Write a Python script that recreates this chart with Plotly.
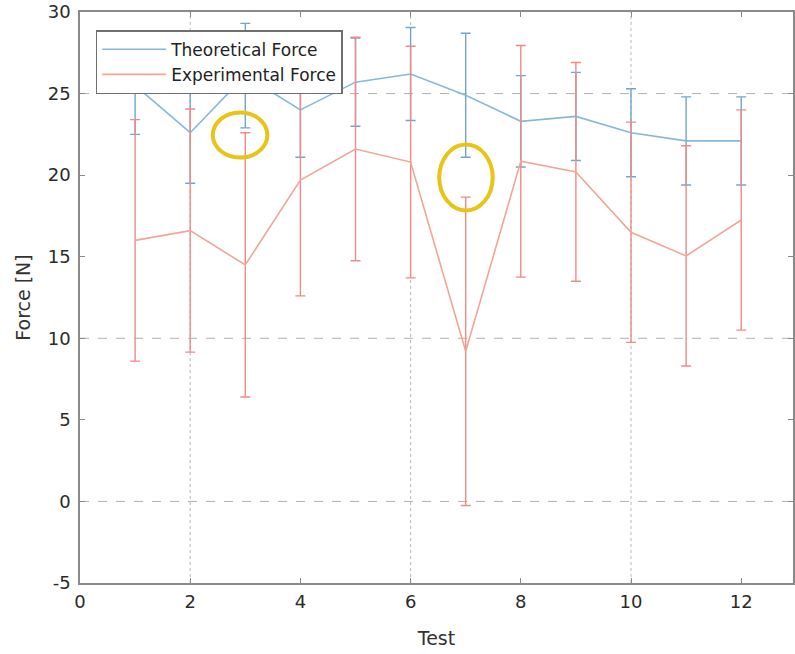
import plotly.graph_objects as go

tests = [1, 2, 3, 4, 5, 6, 7, 8, 9, 10, 11, 12]
theoretical = [25.5, 22.6, 26.1, 24.0, 25.7, 26.2, 24.9, 23.3, 23.6, 22.6, 22.1, 22.1]
theoretical_err = [3.0, 3.1, 3.2, 2.9, 2.7, 2.85, 3.8, 2.8, 2.7, 2.7, 2.7, 2.7]
experimental = [16.0, 16.6, 14.5, 19.7, 21.6, 20.8, 9.2, 20.85, 20.2, 16.5, 15.05, 17.25]
experimental_err = [7.4, 7.45, 8.1, 7.1, 6.85, 7.1, 9.45, 7.1, 6.7, 6.75, 6.75, 6.75]

x_ticks = [0, 2, 4, 6, 8, 10, 12]
y_ticks = [-5, 0, 5, 10, 15, 20, 25, 30]
y_tick_labels = ["-5", "0", "5", "10", "15", "20", "25", "30"]
x_grid = [2, 6, 10]
y_grid = [0, 10, 25]
highlights = [(2.41, 3.40, 21.08, 23.84), (6.52, 7.49, 17.83, 21.88)]

BLUE = "#86b8d8"
RED = "#f2a595"
FONT = "DejaVu Sans, Verdana, sans-serif"

fig = go.Figure()
fig.add_trace(go.Scatter(
    x=tests, y=theoretical, mode="lines", name="Theoretical Force",
    line=dict(color=BLUE, width=1.6),
    error_y=dict(type="data", array=theoretical_err, color="#6fa6cc", thickness=1.4, width=5),
))
fig.add_trace(go.Scatter(
    x=tests, y=experimental, mode="lines", name="Experimental Force",
    line=dict(color=RED, width=1.6),
    error_y=dict(type="data", array=experimental_err, color="#f08a86", thickness=1.4, width=5),
))

shapes = []
for gx in x_grid:
    shapes.append(dict(type="line", xref="x", yref="paper", x0=gx, x1=gx, y0=0, y1=1,
                       line=dict(color="#b8b8b8", width=1, dash="dot"), layer="below"))
for gy in y_grid:
    shapes.append(dict(type="line", xref="paper", yref="y", x0=0, x1=1, y0=gy, y1=gy,
                       line=dict(color="#b0b0b0", width=1, dash="dash"), layer="below"))
for (a, b, c, d) in highlights:
    shapes.append(dict(type="circle", xref="x", yref="y", x0=a, x1=b, y0=c, y1=d,
                       line=dict(color="#eac317", width=4)))

axis_common = dict(
    showline=True, linecolor="#8a8a8a", linewidth=1.5, mirror="ticks",
    ticks="inside", ticklen=5, tickcolor="#8a8a8a", showgrid=False, zeroline=False,
    tickfont=dict(family=FONT, size=18, color="#2a2a2a"),
)

fig.update_layout(
    width=795, height=654,
    margin=dict(l=80, r=0, t=12, b=71),
    plot_bgcolor="white", paper_bgcolor="white",
    shapes=shapes,
    showlegend=True,
    legend=dict(x=0.022, y=0.968, xanchor="left", yanchor="top",
                bgcolor="white", bordercolor="#707070", borderwidth=1.5,
                font=dict(family=FONT, size=17, color="#222222"),
                tracegroupgap=0, itemwidth=64),
    xaxis=dict(range=[0, 12.94], tickvals=x_ticks, ticklabelstandoff=2,
               title=dict(text="Test", standoff=20,
                          font=dict(family=FONT, size=19, color="#333333")),
               **axis_common),
    yaxis=dict(range=[-5, 30], tickvals=y_ticks, ticktext=y_tick_labels, ticklabelstandoff=4,
               title=dict(text="Force [N]", standoff=12,
                          font=dict(family=FONT, size=19, color="#333333")),
               **axis_common),
)

fig.write_html("out.html")
